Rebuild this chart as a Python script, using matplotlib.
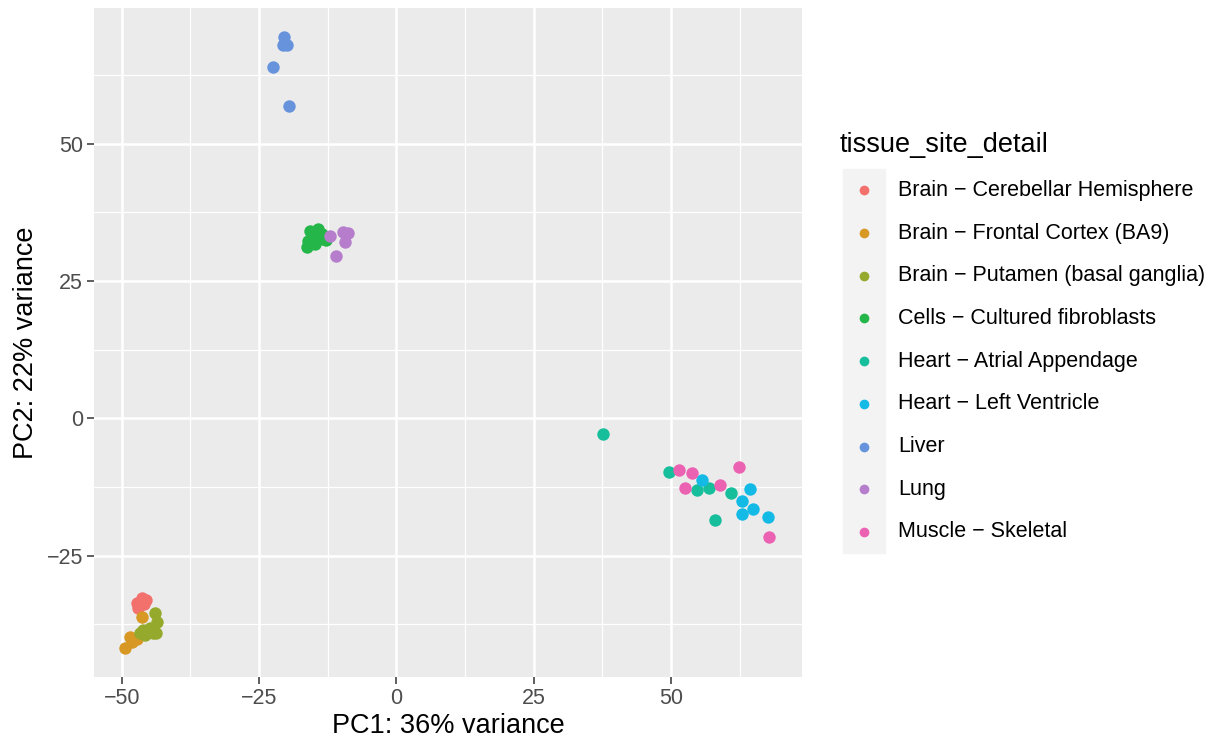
import matplotlib
matplotlib.use("Agg")
import matplotlib.pyplot as plt
from matplotlib.lines import Line2D
from matplotlib.patches import Rectangle
from matplotlib.ticker import MultipleLocator

plt.rcParams['font.family'] = ['Liberation Sans', 'DejaVu Sans']

# PCA coordinates, one group per tissue
tissues = [
    'Brain − Cerebellar Hemisphere',
    'Brain − Frontal Cortex (BA9)',
    'Brain − Putamen (basal ganglia)',
    'Cells − Cultured fibroblasts',
    'Heart − Atrial Appendage',
    'Heart − Left Ventricle',
    'Liver',
    'Lung',
    'Muscle − Skeletal',
]
colors = ['#F2716C', '#D79824', '#95AA2C', '#25B649', '#16BE9C',
          '#14BAE6', '#6693DC', '#B57DCB', '#EC62B2']

pc1 = [
    [-47.3, -46.4, -45.5, -47.0, -46.0],
    [-46.4, -48.5, -47.3, -49.5, -48.2],
    [-44.0, -43.6, -46.1, -44.9, -44.3, -45.8, -43.7, -46.7],
    [-15.8, -14.3, -13.6, -16.1, -14.8, -13.4, -16.3, -15.0, -12.8],
    [37.7, 49.6, 54.8, 56.9, 60.9, 58.0],
    [55.6, 64.4, 63.0, 65.0, 63.0, 67.7],
    [-20.4, -19.9, -20.7, -22.5, -19.5],
    [-12.1, -9.7, -8.8, -9.3, -11.0],
    [51.5, 53.8, 52.5, 58.9, 62.4, 67.9],
]
pc2 = [
    [-33.7, -32.8, -33.1, -34.6, -33.9],
    [-36.1, -39.8, -40.1, -41.9, -40.7],
    [-35.5, -37.0, -38.5, -38.2, -39.1, -39.5, -39.1, -39.1],
    [34.1, 34.5, 33.5, 32.3, 31.7, 32.6, 31.2, 33.0, 32.4],
    [-2.8, -9.8, -13.1, -12.7, -13.6, -18.6],
    [-11.3, -12.9, -15.1, -16.5, -17.4, -18.0],
    [69.4, 67.9, 67.9, 64.0, 56.8],
    [33.2, 33.9, 33.7, 32.1, 29.5],
    [-9.5, -9.9, -12.7, -12.1, -8.9, -21.6],
]

fig = plt.figure(figsize=(12.25, 7.45), dpi=100)
ax = fig.add_axes([0.077, 0.0913, 0.5774, 0.8986])
ax.set_facecolor('#EBEBEB')

for name, col, xs, ys in zip(tissues, colors, pc1, pc2):
    ax.scatter(xs, ys, s=80, color=col, linewidths=0, zorder=3, label=name)

ax.set_xlim(-55.0, 73.8)
ax.set_ylim(-47.1, 74.8)
ax.xaxis.set_major_locator(MultipleLocator(25))
ax.yaxis.set_major_locator(MultipleLocator(25))
ax.xaxis.set_minor_locator(MultipleLocator(12.5))
ax.yaxis.set_minor_locator(MultipleLocator(12.5))
ax.grid(which='major', color='white', linewidth=1.8, zorder=0)
ax.grid(which='minor', color='white', linewidth=0.9, zorder=0)
ax.set_axisbelow(True)
for sp in ax.spines.values():
    sp.set_visible(False)
ax.tick_params(which='major', length=5, width=1.1, color='#333333',
               labelcolor='#4D4D4D', labelsize=15.5, pad=3)
ax.tick_params(which='minor', length=0)
ax.set_xticklabels([f'{int(v)}'.replace('-', '−') for v in ax.get_xticks()])
ax.set_yticklabels([f'{int(v)}'.replace('-', '−') for v in ax.get_yticks()])
ax.set_xlabel('PC1: 36% variance', fontsize=19.5, labelpad=3)
ax.set_ylabel('PC2: 22% variance', fontsize=19.5, labelpad=6)

# legend in ggplot style
fig.text(840 / 1225, 1 - 145 / 745, 'tissue_site_detail', fontsize=19.5,
         ha='left', va='center')
key_top, key_h = 169, 42.7
fig.patches.append(Rectangle((843 / 1225, 1 - (key_top + key_h * len(tissues)) / 745),
                             42 / 1225, key_h * len(tissues) / 745,
                             transform=fig.transFigure, color='#F3F3F4', zorder=0))
for i, (name, col) in enumerate(zip(tissues, colors)):
    yc = 1 - (key_top + key_h * (i + 0.5)) / 745
    fig.lines.append(Line2D([864 / 1225], [yc], marker='o', markersize=7,
                            color=col, markeredgewidth=0,
                            transform=fig.transFigure))
    fig.text(898 / 1225, yc, name, fontsize=15.5, ha='left', va='center')

fig.savefig('out.png', dpi=100)
